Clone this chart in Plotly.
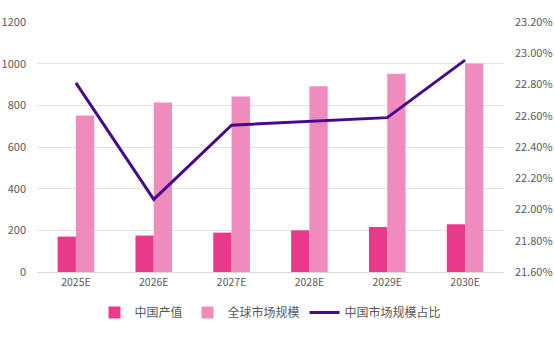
import plotly.graph_objects as go

categories = ["2025E", "2026E", "2027E", "2028E", "2029E", "2030E"]
china_output = [170, 175, 189, 200, 216, 229]
global_market = [751, 814, 842, 892, 952, 1001]
china_share = [0.2281, 0.22065, 0.2254, 0.22565, 0.22588, 0.22956]

font_family = "Noto Sans CJK SC, Noto Sans, sans-serif"
text_color = "#595959"

fig = go.Figure()
fig.add_trace(go.Bar(x=categories, y=china_output, name="中国产值",
                     marker=dict(color="#E8398B", line=dict(width=0))))
fig.add_trace(go.Bar(x=categories, y=global_market, name="全球市场规模",
                     marker=dict(color="#F08BBE", line=dict(width=0))))
fig.add_trace(go.Scatter(x=categories, y=china_share, name="中国市场规模占比",
                         mode="lines", yaxis="y2",
                         line=dict(color="#470A8A", width=3)))

fig.update_layout(
    width=554, height=339,
    margin=dict(l=37, r=50, t=22, b=62),
    paper_bgcolor="white", plot_bgcolor="white",
    barmode="group", bargap=0.53, bargroupgap=0,
    font=dict(family=font_family, size=11, color=text_color),
    xaxis=dict(showgrid=False, showline=True, linecolor="#d9d9d9",
               linewidth=1, ticks="", automargin=False,
               tickfont=dict(size=10.5, color=text_color)),
    yaxis=dict(range=[0, 1200], dtick=200, showgrid=True, gridcolor="#e3e3e3",
               gridwidth=1, zeroline=False, ticks="", ticklabelstandoff=10,
               automargin=False, tickfont=dict(size=11, color=text_color)),
    yaxis2=dict(range=[0.216, 0.232], dtick=0.002, tickformat=".2%",
                overlaying="y", side="right", showgrid=False, zeroline=False,
                ticks="", ticklabelstandoff=10, automargin=False,
                tickfont=dict(size=11, color=text_color)),
    legend=dict(orientation="h", x=0.5, xanchor="center", y=-0.162,
                yanchor="middle", font=dict(size=12, color=text_color),
                traceorder="normal", itemwidth=30),
    showlegend=True,
)

fig.write_html("out.html")
